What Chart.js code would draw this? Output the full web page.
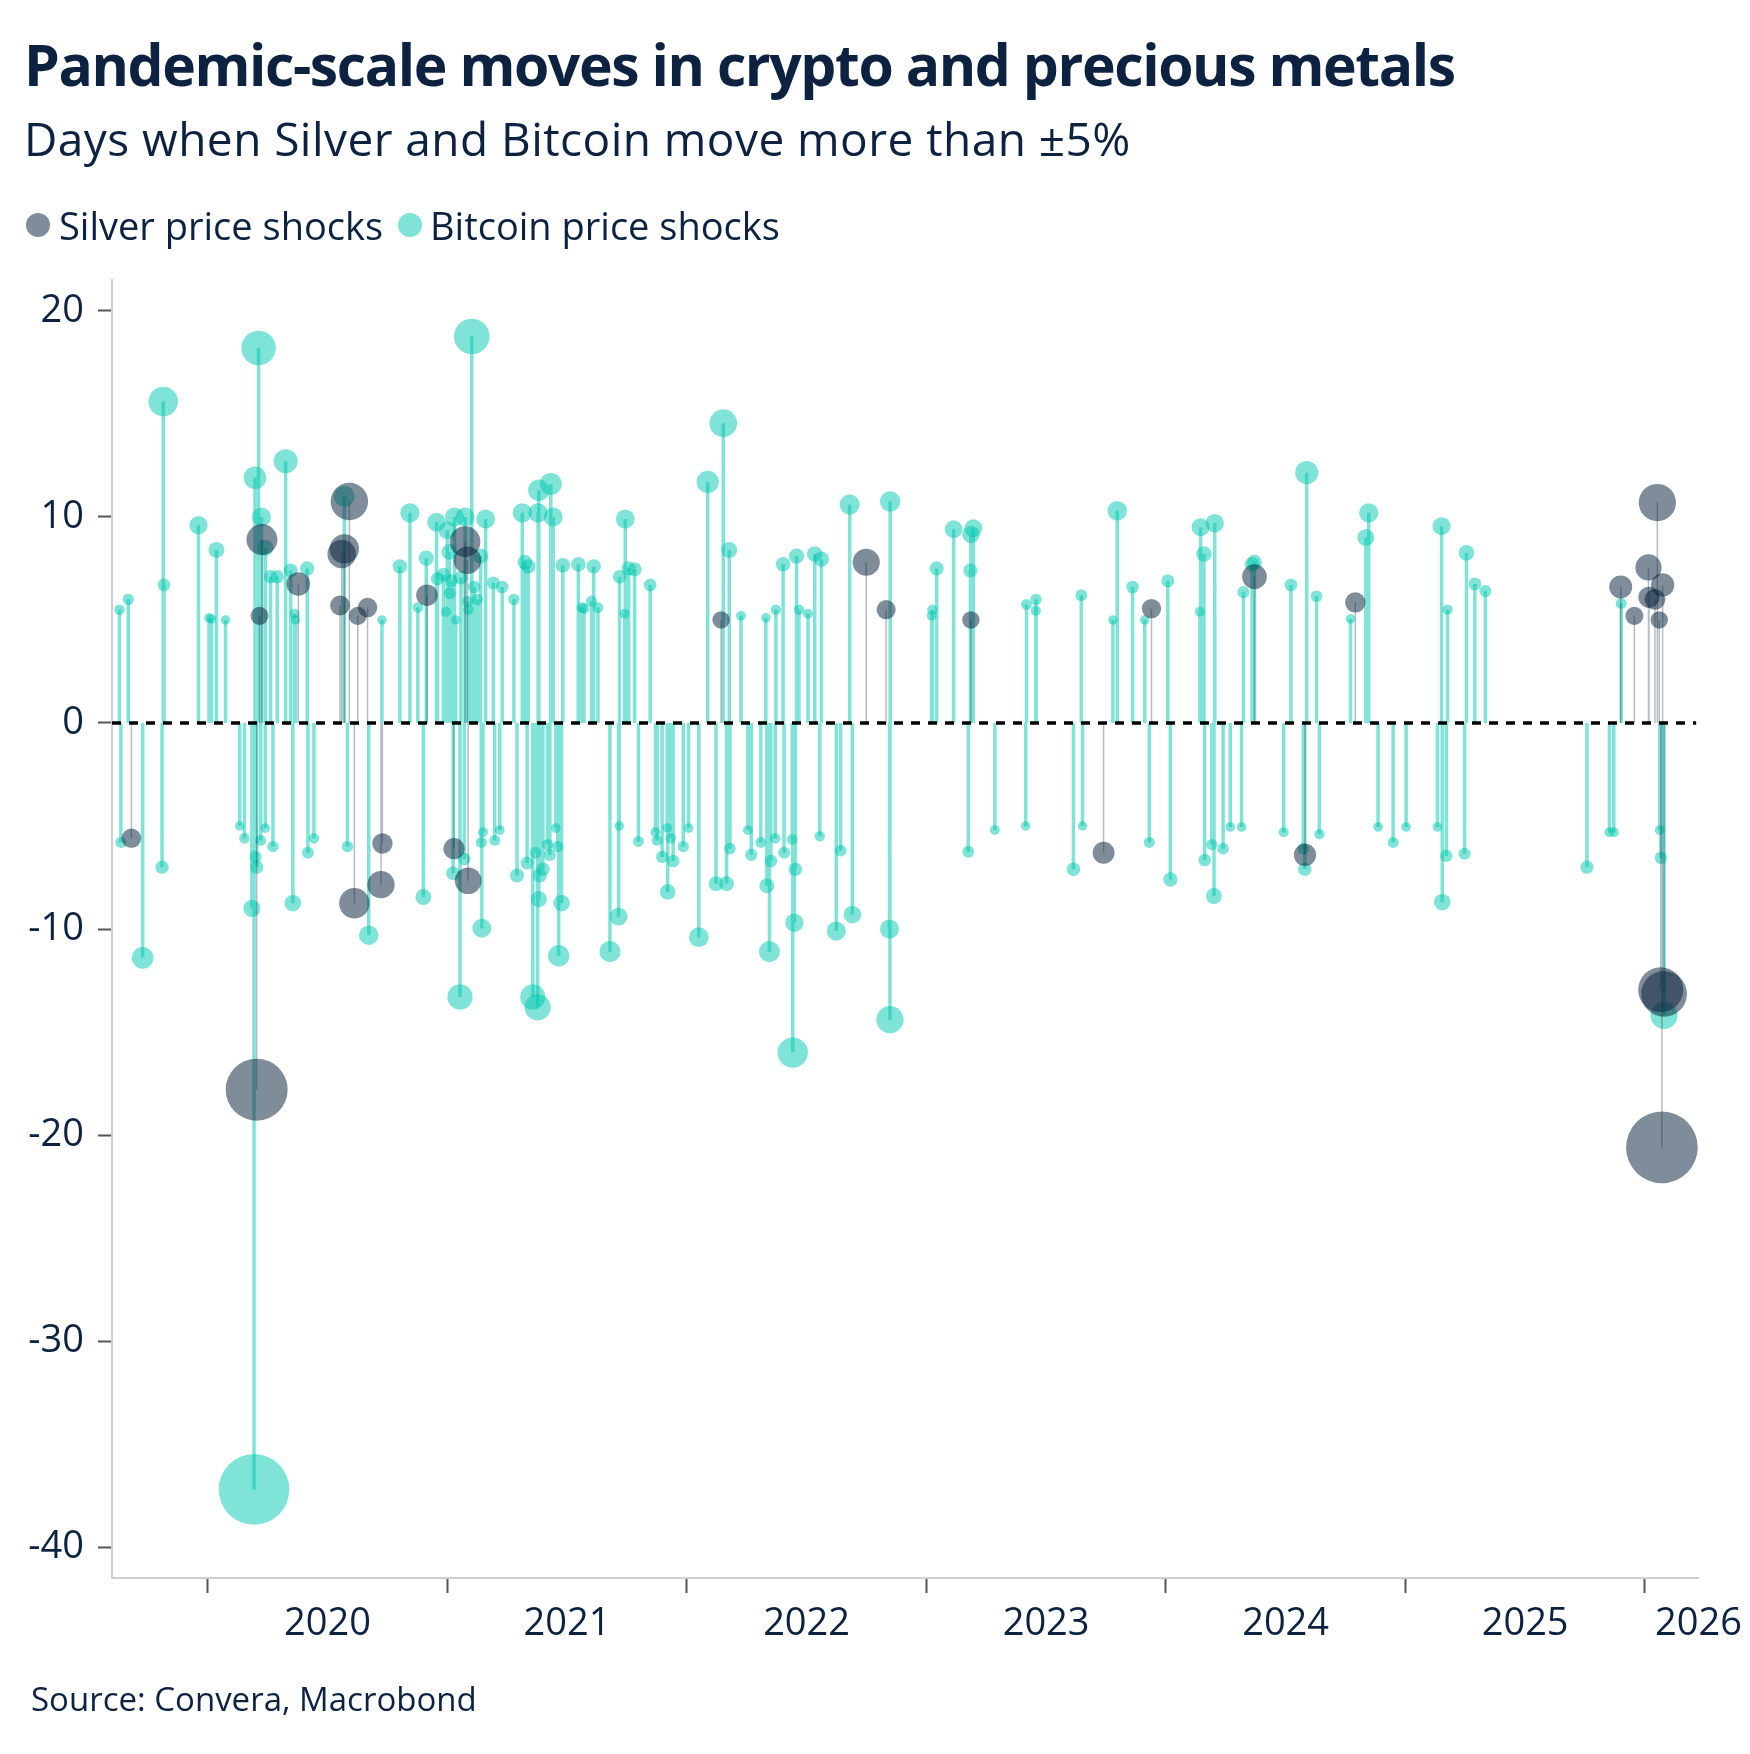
<!DOCTYPE html>
<html><head><meta charset="utf-8">
<script src="https://cdn.jsdelivr.net/npm/chart.js@4.4.1/dist/chart.umd.min.js"></script>
<style>
html,body{margin:0;padding:0;background:#fff;}
#wrap{position:relative;width:1750px;height:1754px;overflow:hidden;font-family:'Open Sans',sans-serif;color:#0c2240;}
#c{position:absolute;left:0;top:0;}
.t{position:absolute;white-space:nowrap;line-height:1;}
#title{left:24px;top:36px;font-size:57px;font-weight:700;letter-spacing:-1.4px;}
#subtitle{left:24px;top:115px;font-size:46px;letter-spacing:0.45px;}
.lg{top:206px;font-size:38px;}
.dot{position:absolute;width:24px;height:24px;border-radius:50%;top:213px;}
#source{left:31px;top:1682px;font-size:33px;}
</style></head><body>
<div id="wrap">
<canvas id="c" width="1750" height="1754"></canvas>
<div class="t" id="title">Pandemic-scale moves in crypto and precious metals</div>
<div class="t" id="subtitle">Days when Silver and Bitcoin move more than ±5%</div>
<div class="dot" style="left:26px;background:rgba(10,35,60,0.52)"></div>
<div class="t lg" style="left:59px">Silver price shocks</div>
<div class="dot" style="left:398px;background:rgba(0,199,175,0.5)"></div>
<div class="t lg" style="left:430px">Bitcoin price shocks</div>
<div class="t" id="source">Source: Convera, Macrobond</div>
</div>
<script>
// Dates as decimal years, daily % change
const bitcoinDates = [
2019.631,2019.668,2019.817,2019.814,2019.961,2020.005,2020.015,2020.036,2020.074,2020.197,
2020.212,2020.224,2020.240,2020.262,2020.290,2020.325,2020.346,2020.362,2020.366,2020.415,
2020.570,2020.727,2020.802,2020.844,2020.877,2020.912,2020.955,2020.959,2020.984,2020.994,
2021.000,2021.008,2021.010,2021.017,2021.030,2021.035,2021.057,2021.074,2021.085,2021.088,
2021.102,2021.112,2021.125,2021.139,2021.160,2021.192,2021.229,2021.278,2021.313,2021.324,
2021.338,2021.379,2021.382,2021.432,2021.442,2021.482,2021.547,2021.562,2021.571,2021.602,
2021.611,2021.629,2021.719,2021.740,2021.743,2021.757,2021.782,2021.847,2022.087,2022.152,
2022.177,2022.226,2022.330,2022.372,2022.402,2022.458,2022.468,2022.506,2022.534,2022.562,
2022.680,2022.849,2023.022,2023.025,2023.043,2023.114,2023.184,2023.186,2023.196,2023.418,
2023.457,2023.458,2023.647,2023.779,2023.797,2023.861,2023.912,2024.008,2024.142,2024.145,
2024.159,2024.204,2024.324,2024.360,2024.370,2024.522,2024.588,2024.629,2024.771,2024.835,
2024.847,2025.151,2025.176,2025.255,2025.290,2025.334,2025.901,
2019.637,2019.728,2019.809,2020.133,2020.153,2020.184,2020.193,2020.199,2020.204,2020.221,
2020.240,2020.272,2020.355,2020.418,2020.443,2020.583,2020.672,2020.900,2021.024,2021.053,
2021.071,2021.144,2021.142,2021.149,2021.198,2021.219,2021.291,2021.333,2021.357,2021.377,
2021.368,2021.382,2021.386,2021.399,2021.418,2021.428,2021.453,2021.461,2021.465,2021.477,
2021.679,2021.715,2021.718,2021.798,2021.869,2021.876,2021.897,2021.918,2021.920,2021.933,
2021.943,2021.985,2022.007,2022.050,2022.122,2022.166,2022.180,2022.255,2022.269,2022.309,
2022.334,2022.345,2022.351,2022.369,2022.406,2022.440,2022.442,2022.449,2022.453,2022.555,
2022.624,2022.642,2022.691,2022.846,2022.848,2023.175,2023.286,2023.415,2023.614,2023.652,
2023.931,2024.019,2024.162,2024.192,2024.201,2024.239,2024.269,2024.316,2024.492,2024.574,
2024.580,2024.641,2024.886,2024.949,2025.003,2025.134,2025.154,2025.171,2025.247,2025.758,
2025.852,2025.870,2026.062,2026.067,2026.080
];
const bitcoinChanges = [
5.5,6.0,6.7,15.6,9.6,5.1,5.05,8.4,5.0,11.9,
18.2,10.0,8.5,7.1,7.1,12.7,7.4,5.3,5.0,7.5,
11.0,5.0,7.6,10.2,5.6,8.0,9.75,7.0,7.2,5.4,
9.35,8.3,6.3,6.9,10.0,5.0,7.05,10.0,5.9,5.5,
18.76,6.6,6.0,8.1,9.9,6.8,6.6,6.0,10.2,7.8,
7.6,10.2,11.3,11.6,10.0,7.65,7.7,5.6,5.55,5.9,
7.6,5.6,7.1,5.3,9.9,7.5,7.45,6.7,11.7,14.55,
8.4,5.2,5.1,5.5,7.7,8.1,5.5,5.3,8.2,7.95,
10.6,10.75,5.2,5.5,7.5,9.4,7.4,9.15,9.45,5.75,
5.45,6.0,6.2,5.0,10.3,6.6,5.0,6.9,5.4,9.5,
8.2,9.7,6.35,7.7,7.8,6.7,12.15,6.15,5.05,9.0,
10.2,9.55,5.5,8.26,6.75,6.4,5.8,
-5.8,-11.4,-7.0,-5.0,-5.6,-9.0,-37.2,-6.5,-7.0,-5.7,
-5.1,-6.0,-8.75,-6.3,-5.6,-6.0,-10.3,-8.45,-7.3,-13.3,
-6.6,-9.96,-5.8,-5.3,-5.7,-5.2,-7.4,-6.8,-13.3,-13.8,
-6.3,-8.55,-7.4,-7.1,-5.9,-6.4,-5.1,-6.0,-11.3,-8.75,
-11.1,-9.4,-5.0,-5.75,-5.3,-5.7,-6.5,-5.1,-8.2,-5.6,
-6.7,-6.0,-5.1,-10.4,-7.8,-7.8,-6.1,-5.2,-6.4,-5.8,
-7.9,-11.1,-6.7,-5.6,-6.3,-5.65,-16.0,-9.7,-7.1,-5.5,
-10.1,-6.2,-9.3,-10.0,-14.4,-6.25,-5.2,-5.0,-7.1,-5.0,
-5.8,-7.6,-6.65,-5.9,-8.4,-6.1,-5.05,-5.05,-5.3,-6.1,
-7.1,-5.4,-5.05,-5.8,-5.05,-5.05,-8.7,-6.45,-6.35,-7.0,
-5.3,-5.3,-5.2,-6.55,-14.2
];
const silverDates = [
2019.681,2020.204,2020.216,2020.226,2020.378,2020.552,2020.559,2020.570,2020.591,2020.612,
2020.626,2020.667,2020.723,2020.729,2020.915,2021.028,2021.074,2021.084,2021.087,2022.143,
2022.749,2022.832,2023.186,2023.740,2023.940,2024.370,2024.581,2024.791,2025.899,2025.956,
2026.015,2026.017,2026.042,2026.052,2026.060,2026.066,2026.071,2026.074,2026.080
];
const silverChanges = [
-5.6,-17.8,5.2,8.9,6.75,5.7,8.2,8.45,10.75,-8.75,
5.2,5.6,-7.85,-5.85,6.2,-6.1,8.8,7.9,-7.66,5.0,
7.8,5.5,5.0,-6.3,5.55,7.1,-6.4,5.85,6.6,5.2,
7.55,6.1,6.0,10.7,5.0,-12.95,-20.6,6.7,-13.15
];
const yTicks = [-40,-30,-20,-10,0,10,20];
const yearBoundaries = [2020,2021,2022,2023,2024,2025,2026];
const yearLabels = ['2020','2021','2022','2023','2024','2025','2026'];
const xMin = 2019.6, xMax = 2026.224, yMin = -41.5, yMax = 21.5;

// label positions: mid-year, last one at the axis end
const labelPos = yearLabels.map((l,i)=> i < yearLabels.length-1 ? yearBoundaries[i]+0.5 : xMax);
const labelMap = {};
labelPos.forEach((p,i)=>{labelMap[p.toFixed(3)] = yearLabels[i];});

const TEAL = 'rgba(0,199,175,0.5)';
const NAVY = 'rgba(10,35,60,0.52)';
const TXT = '#0c2240';

function stems(dates, vals){
  const out = [];
  dates.forEach((d,i)=>{ out.push({x:d,y:0}); out.push({x:d,y:vals[i]}); out.push({x:d,y:null}); });
  return out;
}
function bubbles(dates, vals, k){
  return dates.map((d,i)=>({x:d, y:vals[i], r:Math.abs(vals[i])*k}));
}

new Chart(document.getElementById('c'), {
  data: {
    datasets: [
      {type:'line', data:[{x:xMin,y:0},{x:xMax-0.01,y:0}], borderColor:'#000', borderWidth:3.5, borderDash:[9,8], pointRadius:0, order:0},
      {type:'bubble', label:'Silver price shocks', data:bubbles(silverDates, silverChanges, 1.74), backgroundColor:NAVY, borderWidth:0, order:1},
      {type:'line', data:stems(silverDates, silverChanges), borderColor:'rgba(10,35,60,0.3)', borderWidth:1.5, pointRadius:0, spanGaps:false, order:2},
      {type:'bubble', label:'Bitcoin price shocks', data:bubbles(bitcoinDates, bitcoinChanges, 0.95), backgroundColor:TEAL, borderWidth:0, order:3},
      {type:'line', data:stems(bitcoinDates, bitcoinChanges), borderColor:TEAL, borderWidth:3.5, pointRadius:0, spanGaps:false, order:4}
    ]
  },
  options: {
    responsive:false, animation:false, events:[],
    layout:{padding:{left:0, top:280, right:47, bottom:76}},
    plugins:{legend:{display:false}, tooltip:{enabled:false}},
    clip:false,
    scales:{
      x:{type:'linear', position:'bottom', min:xMin, max:xMax,
        afterFit:(s)=>{s.height=100;},
        afterBuildTicks:(s)=>{
          const vals = yearBoundaries.concat(labelPos).sort((a,b)=>a-b);
          s.ticks = vals.map(v=>({value:v}));
        },
        grid:{drawOnChartArea:false, drawTicks:true, tickLength:15, tickWidth:2,
          tickColor:(ctx)=> (ctx.tick && Number.isInteger(ctx.tick.value)) ? '#555' : 'rgba(0,0,0,0)'},
        border:{color:'#cfcfcf', width:2},
        ticks:{autoSkip:false, maxRotation:0, minRotation:0, padding:8, color:TXT,
          font:{family:'Open Sans', size:38},
          callback:(v)=> labelMap[Number(v).toFixed(3)] || ''}
      },
      y:{type:'linear', position:'left', min:yMin, max:yMax,
        afterFit:(s)=>{s.width=112;},
        afterBuildTicks:(s)=>{ s.ticks = yTicks.map(v=>({value:v})); },
        grid:{drawOnChartArea:false, drawTicks:true, tickLength:14, tickWidth:2, tickColor:'#555'},
        border:{color:'#cfcfcf', width:2},
        ticks:{padding:14, color:TXT, font:{family:'Open Sans', size:38}}
      }
    }
  }
});
</script>
</body></html>
